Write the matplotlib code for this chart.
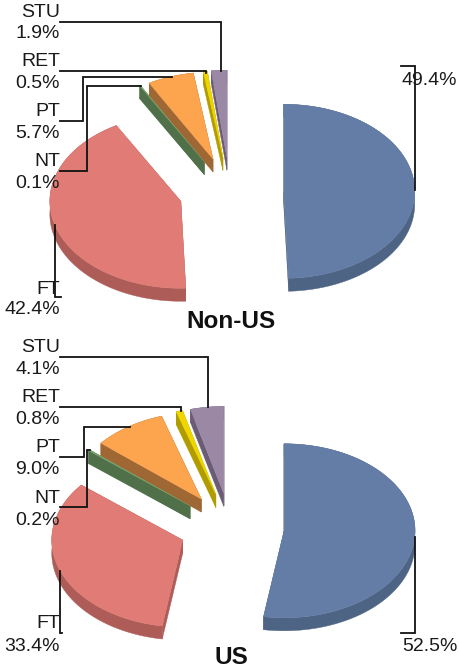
import numpy as np
import matplotlib
matplotlib.use("Agg")
import matplotlib.pyplot as plt
from matplotlib.patches import Polygon

categories = ["Other", "FT", "NT", "PT", "RET", "STU"]
nonus_values = [49.4, 42.4, 0.1, 5.7, 0.5, 1.9]
us_values = [52.5, 33.4, 0.2, 9.0, 0.8, 4.1]
nonus_labels = ["49.4%", "42.4%", "0.1%", "5.7%", "0.5%", "1.9%"]
us_labels = ["52.5%", "33.4%", "0.2%", "9.0%", "0.8%", "4.1%"]
top_colors = ["#647da6", "#e07b75", "#7aa56e", "#fca44e", "#efd600", "#9b88a5"]
side_colors = ["#4e6484", "#ad5c58", "#4f7049", "#9f6733", "#b09c00", "#6b5b75"]
explode = [0.41, 0.39, 0.40, 0.40, 0.40, 0.40]

plt.rcParams["font.family"] = ["Liberation Sans", "DejaVu Sans"]
TXT = "#1a1a1a"
RX, RY, DEPTH = 131, 87, 13

fig = plt.figure(figsize=(4.59, 6.70), dpi=100)
ax = fig.add_axes([0, 0, 1, 1])
ax.set_xlim(0, 459)
ax.set_ylim(670, 0)
ax.axis("off")


def draw_pie(values, cx, cy):
    total = sum(values)
    start = 0.0
    for v, top, side, e in zip(values, top_colors, side_colors, explode):
        sweep = 360.0 * v / total
        mid = np.radians(start + sweep / 2)
        ox = cx + e * RX * np.sin(mid)
        oy = cy - e * RY * np.cos(mid)
        th = np.radians(np.linspace(start, start + sweep, 120))
        ax_, ay_ = ox + RX * np.sin(th), oy - RY * np.cos(th)
        wall = np.r_[np.c_[ax_, ay_], np.c_[ax_[::-1], ay_[::-1] + DEPTH]]
        ax.add_patch(Polygon(wall, closed=True, fc=side, ec=side, lw=0.3, zorder=2))
        for k in (0, -1):
            ax.add_patch(Polygon([(ox, oy), (ax_[k], ay_[k]), (ax_[k], ay_[k] + DEPTH), (ox, oy + DEPTH)],
                                 closed=True, fc=side, ec=side, lw=0.3, zorder=2))
        ax.add_patch(Polygon(np.r_[[(ox, oy)], np.c_[ax_, ay_]], closed=True, fc=top, ec=top, lw=0.3, zorder=3))
        start += sweep


def leader(pts):
    ax.plot(*zip(*pts), color="#111111", lw=1.3, zorder=5, solid_joinstyle="miter")


def label(x, y, s, ha="right"):
    ax.text(x, y + 1.5, s, ha=ha, va="center", fontsize=14, color=TXT, zorder=6)


draw_pie(nonus_values, 230, 192)
draw_pie(us_values, 230.5, 528)

# Non-US leaders
for pts in [[(60, 21.5), (220.5, 21.5), (220.5, 71)],
            [(60, 71), (206, 71), (206, 73)],
            [(60, 121), (83, 121), (83, 76.5), (172, 76.5)],
            [(60, 171), (87, 171), (87, 86), (141, 86)],
            [(55, 225), (55, 297), (61, 297)],
            [(415, 190), (415, 66), (401, 66)]]:
    leader(pts)
# US leaders
for pts in [[(60, 356.5), (208, 356.5), (208, 407)],
            [(60, 406.5), (180.5, 406.5), (180.5, 411)],
            [(60, 456.5), (84, 456.5), (84, 426.5), (130, 426.5)],
            [(60, 507), (87, 507), (87, 450), (90, 450)],
            [(60, 571), (60, 633), (62, 633)],
            [(415, 537), (415, 633), (401, 633)]]:
    leader(pts)

name_y_n = {"STU": 11, "RET": 60, "PT": 110, "NT": 160, "FT": 288}
val_y_n = {"STU": 32, "RET": 82, "PT": 132, "NT": 182, "FT": 308}
name_y_u = {"STU": 346, "RET": 396, "PT": 446, "NT": 497, "FT": 622}
val_y_u = {"STU": 368, "RET": 418, "PT": 468, "NT": 519, "FT": 645}
for i, c in enumerate(categories):
    if c == "Other":
        label(401, 79, nonus_labels[i], ha="left")
        label(402, 645, us_labels[i], ha="left")
    else:
        label(60, name_y_n[c], c)
        label(60, val_y_n[c], nonus_labels[i])
        label(60, name_y_u[c], c)
        label(60, val_y_u[c], us_labels[i])

ax.text(231, 322, "Non-US", ha="center", va="center", fontsize=17.5, fontweight="bold", color="#111111")
ax.text(231, 658, "US", ha="center", va="center", fontsize=17.5, fontweight="bold", color="#111111")

fig.savefig("out.png", dpi=100)
